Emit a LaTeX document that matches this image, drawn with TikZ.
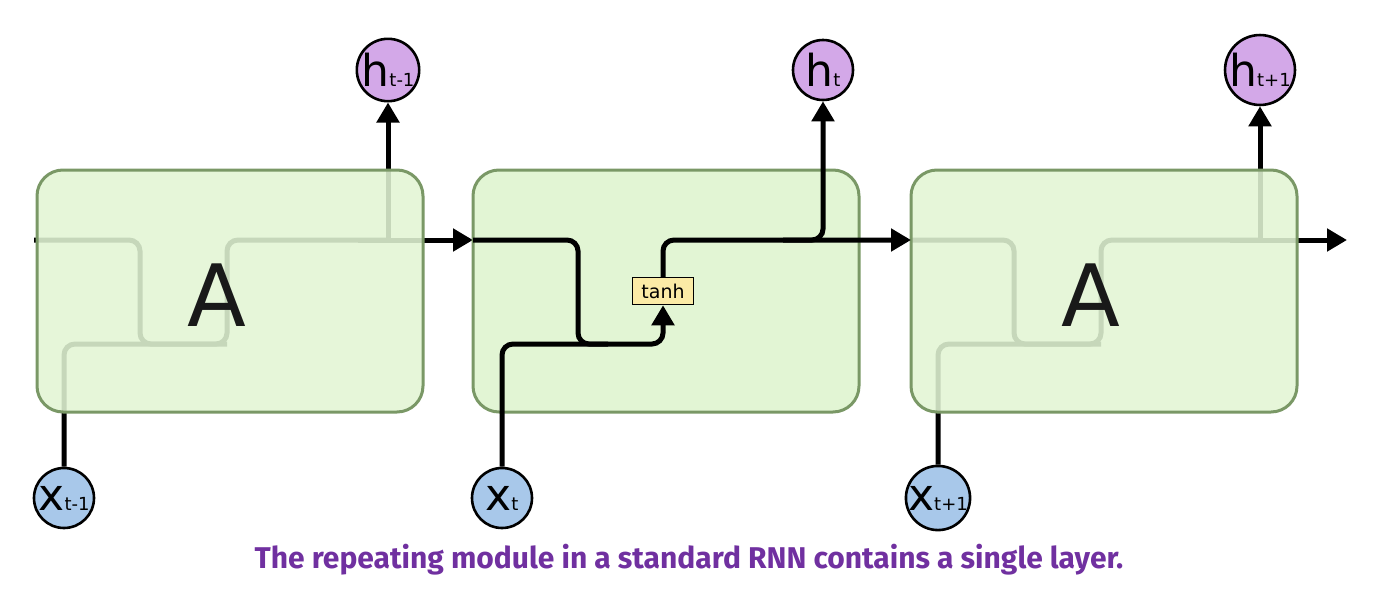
\documentclass[tikz,border=0pt]{standalone}
\usepackage{fontspec}
\setmainfont{DejaVu Sans}
\newfontfamily\capfont{Fira Sans}
\usetikzlibrary{arrows.meta,backgrounds}
\definecolor{boxfill}{HTML}{E2F5D4}
\definecolor{boxdraw}{HTML}{7A9866}
\definecolor{hfill}{HTML}{D3A8E8}
\definecolor{xfill}{HTML}{A8C8EA}
\definecolor{tanhfill}{HTML}{FBEBA6}
\definecolor{capcol}{HTML}{7030A0}
\begin{document}
\begin{tikzpicture}[x=1pt,y=-1pt,
  cell/.style={draw=boxdraw,line width=3pt,fill=boxfill,rounded corners=26pt,
    minimum width=386pt,minimum height=242pt,inner sep=0pt},
  ghost/.style={cell,fill opacity=0.88},
  hstate/.style={circle,draw=black,line width=2.6pt,fill=hfill,minimum size=60pt,inner sep=0pt},
  xin/.style={circle,draw=black,line width=2.6pt,fill=xfill,minimum size=60pt,inner sep=0pt},
  layerbox/.style={draw=black,line width=1.5pt,fill=tanhfill,minimum width=61pt,
    minimum height=27pt,inner sep=0pt,font=\fontsize{19}{19}\selectfont},
  bigA/.style={font=\fontsize{86}{86}\selectfont,text=black!90},
  wire/.style={line width=5pt,draw=black,rounded corners=11pt},
  tip/.style={-{Triangle[length=20pt,width=22pt]}}]
\useasboundingbox (0,0) rectangle (1374,592);
\newcommand{\hlab}[1]{\fontsize{44}{44}\selectfont h\fontsize{18}{18}\selectfont #1}
\newcommand{\xlab}[1]{\fontsize{44}{44}\selectfont x\fontsize{18}{18}\selectfont #1}
% cells
\node[ghost] (boxL) at (230,291) {};
\node[cell]  (boxM) at (666,291) {};
\node[ghost] (boxR) at (1104,291) {};
\node[bigA] (AL) at (217,295) {A};
\node[bigA] (AR) at (1091,295) {A};
% circles
\node[hstate] (hL) at (388,70) {\hlab{t-1}};
\node[hstate] (hM) at (823,70) {\hlab{t}};
\node[hstate] (hR) at (1260,70) {\hlab{t+1}};
\node[xin] (xL) at (64,498) {\xlab{t-1}};
\node[xin] (xM) at (502,498) {\xlab{t}};
\node[xin] (xR) at (938,498) {\xlab{t+1}};
\node[layerbox] (tanh) at (663,291) {tanh};
% helper coordinates
\coordinate (Lin) at (34,240);
\coordinate (Ldn) at (140,344);
\coordinate (Lj) at (227,344);
\coordinate (Lh) at (388,240);
\coordinate (Min) at (473,240);
\coordinate (Mdn) at (578,344);
\coordinate (Mj) at (663,344);
\coordinate (Mh) at (823,240);
\coordinate (Rin) at (911,240);
\coordinate (Rdn) at (1014,344);
\coordinate (Rj) at (1101,344);
\coordinate (Rh) at (1260,240);
\coordinate (Rout) at (1347,240);
% wires hidden under the side cells
\begin{scope}[on background layer]
  \draw[wire] (Lin) -| (Ldn) -- (Lj);
  \draw[wire] (xL.north) |- (Lj) |- (Lh);
  \draw[wire,tip] (Lh) -- (hL.south);
  \draw[wire,tip] ([xshift=-30pt]Lh) -- (Min);
  \draw[wire] (Rin) -| (Rdn) -- (Rj);
  \draw[wire] (xR.north) |- (Rj) |- (Rh);
  \draw[wire,tip] (Rh) -- (hR.south);
  \draw[wire,tip] ([xshift=-30pt]Rh) -- (Rout);
\end{scope}
% wires of the middle cell
\draw[wire] (Min) -| (Mdn) -- ([xshift=30pt]Mdn);
\draw[wire,tip] (xM.north) |- (Mj) -- (tanh.south);
\draw[wire,tip] (tanh.north) |- (Rin);
\draw[wire,tip] ([xshift=-40pt]Mh) -- (Mh) -- (hM.south);
% caption
\node[font=\capfont\bfseries\fontsize{30}{30}\selectfont,text=capcol] (cap) at (689,560)
  {The repeating module in a standard RNN contains a single layer.};
\end{tikzpicture}
\end{document}
